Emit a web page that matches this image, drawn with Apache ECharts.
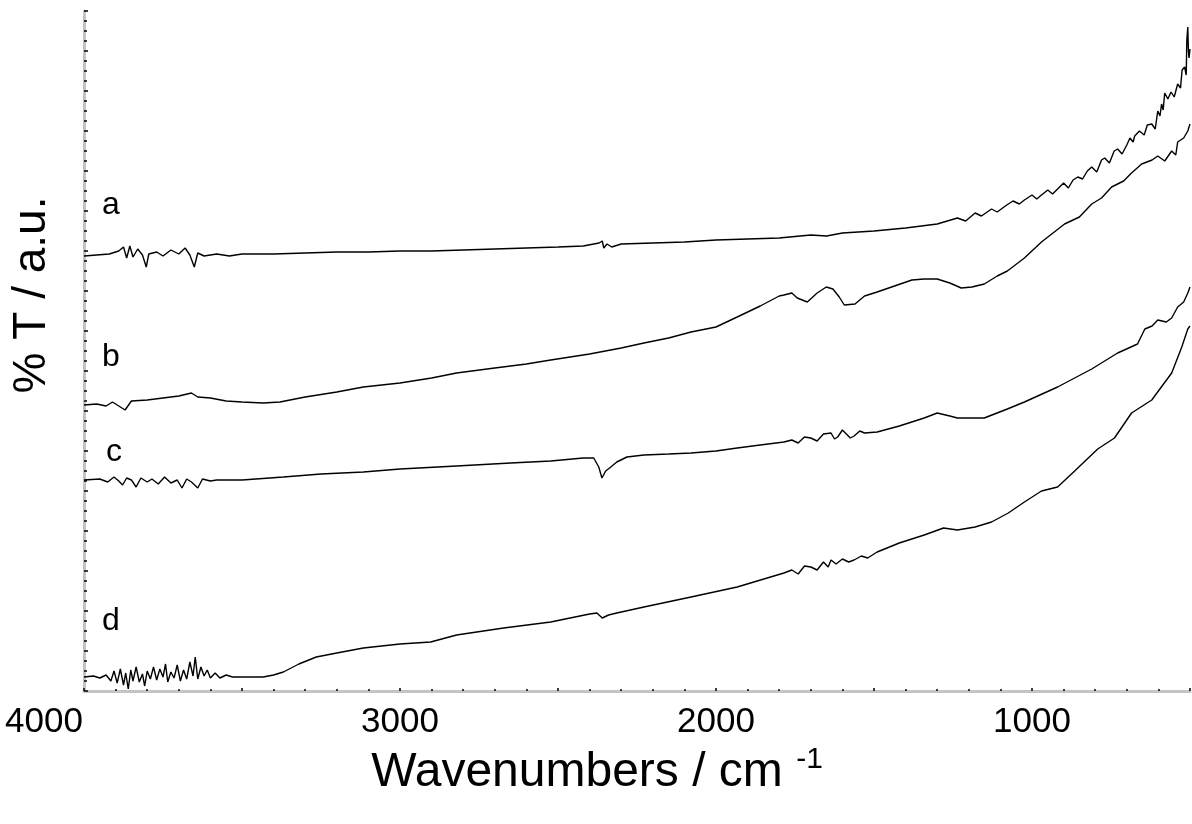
<!DOCTYPE html>
<html>
<head>
<meta charset="utf-8">
<script src="https://cdn.jsdelivr.net/npm/echarts@6/dist/echarts.min.js"></script>
<style>
html,body{margin:0;padding:0;background:#fff;}
#c{width:1192px;height:824px;}
</style>
</head>
<body>
<div id="c"></div>
<script>
// x: wavenumber (cm-1), y: %T in arbitrary units
const xTicks = [4000, 3000, 2000, 1000];
const labelsABCD = ['a', 'b', 'c', 'd'];
const xTitle = 'Wavenumbers / cm ';
const xTitleSup = '-1';
const yTitle = '% T / a.u.';

const seriesA = [
[4000,435],[3960,436],[3920,437],[3890,440],[3875,444],[3865,433],[3855,445],[3845,434],[3830,442],[3815,436],
[3803,424],[3795,437],[3770,439],[3750,435],[3725,441],[3700,437],[3680,443],[3665,436],[3651,424],[3640,438],
[3620,435],[3580,437],[3540,435],[3500,437],[3400,437],[3300,438],[3200,439],[3100,439],[3000,440],[2900,440],
[2800,441],[2700,442],[2600,443],[2500,444],[2420,445],[2370,448],[2360,450],[2355,443],[2345,447],[2330,444],
[2300,447],[2200,448],[2100,449],[2000,451],[1900,452],[1800,453],[1700,456],[1650,455],[1600,458],[1500,460],
[1400,463],[1300,467],[1236,473],[1210,470],[1180,478],[1160,475],[1128,482],[1110,479],[1080,486],[1060,490],
[1040,487],[1024,491],[1000,496],[985,492],[970,496],[950,501],[935,497],[919,502],[900,508],[885,503],
[870,511],[855,514],[840,512],[825,520],[811,524],[795,519],[780,531],[770,533],[755,528],[740,540],
[729,542],[715,537],[700,546],[690,553],[680,549],[675,555],[660,560],[645,556],[635,566],[621,567],
[610,562],[602,580],[595,575],[590,587],[585,581],[580,598],[570,592],[560,599],[550,594],[539,607],
[530,603],[525,621],[517,624],[512,616],[510,651],[507,664],[505,640],[503,633],[500,642]
];

const seriesB = [
[4000,286],[3960,287],[3930,285],[3910,289],[3870,281],[3850,290],[3800,291],[3750,293],[3700,295],[3660,298],
[3640,294],[3600,293],[3550,290],[3500,289],[3433,288],[3380,289],[3300,294],[3200,299],[3116,304],[3000,308],
[2900,313],[2821,318],[2700,323],[2600,327],[2523,331],[2400,337],[2300,343],[2228,348],[2150,353],[2079,359],
[2000,364],[1933,374],[1860,385],[1800,395],[1785,396],[1760,398],[1743,393],[1711,389],[1680,398],[1651,404],
[1630,402],[1610,394],[1594,386],[1560,387],[1530,395],[1490,399],[1426,406],[1380,411],[1341,412],[1300,412],
[1260,408],[1224,403],[1190,404],[1151,407],[1110,415],[1078,420],[1024,433],[970,449],[897,467],[850,474],
[811,487],[780,493],[748,504],[710,510],[685,518],[653,527],[620,531],[602,535],[580,530],[558,540],
[545,536],[539,549],[520,553],[507,560],[500,567]
];

const seriesC = [
[4000,211],[3950,212],[3925,209],[3905,214],[3890,210],[3878,206],[3865,213],[3850,211],[3835,204],[3820,213],
[3800,209],[3785,212],[3765,207],[3745,214],[3725,208],[3705,211],[3690,203],[3675,212],[3660,209],[3640,203],
[3625,212],[3600,210],[3580,211],[3500,211],[3369,214],[3250,217],[3116,219],[3000,222],[2821,225],[2650,228],
[2523,230],[2420,233],[2387,233],[2371,224],[2361,213],[2349,220],[2333,224],[2314,229],[2282,234],[2228,236],
[2150,237],[2079,238],[2000,240],[1933,243],[1860,246],[1785,249],[1760,251],[1740,248],[1720,254],[1700,253],
[1680,250],[1660,257],[1636,258],[1625,252],[1615,254],[1600,261],[1594,259],[1575,253],[1563,255],[1545,260],
[1530,258],[1490,259],[1420,265],[1341,273],[1300,278],[1260,275],[1236,273],[1151,273],[1078,282],[1024,289],
[919,304],[811,322],[729,338],[666,347],[643,362],[620,365],[602,371],[575,369],[558,373],[539,384],
[520,389],[507,398],[500,404]
];

const seriesD = [
[4000,14],[3970,15],[3950,13],[3930,16],[3915,10],[3905,20],[3895,8],[3885,22],[3875,6],[3868,18],
[3860,2],[3852,21],[3845,10],[3835,24],[3825,9],[3815,17],[3808,5],[3800,20],[3790,12],[3780,24],
[3770,11],[3760,22],[3750,14],[3742,27],[3735,9],[3725,19],[3715,13],[3705,26],[3695,10],[3685,21],
[3675,12],[3665,29],[3655,15],[3648,34],[3640,12],[3630,24],[3620,15],[3610,21],[3600,13],[3585,18],
[3570,13],[3550,16],[3530,14],[3500,14],[3433,14],[3400,16],[3369,19],[3320,27],[3265,34],[3200,38],
[3116,43],[3000,47],[2903,49],[2821,56],[2672,63],[2523,69],[2400,77],[2377,78],[2360,73],[2340,76],
[2314,78],[2228,84],[2079,94],[1933,104],[1785,118],[1760,121],[1740,117],[1720,125],[1700,124],[1680,121],
[1660,129],[1645,124],[1636,131],[1620,127],[1600,132],[1580,129],[1563,131],[1540,135],[1520,133],[1490,139],
[1420,148],[1341,156],[1280,163],[1236,161],[1180,164],[1128,169],[1075,178],[1024,189],[970,200],[919,204],
[865,220],[792,242],[739,253],[685,278],[621,291],[558,318],[526,344],[507,362],[500,365]
];

const chart = echarts.init(document.getElementById('c'), null, {renderer: 'canvas'});
const font = 'Arial, "Liberation Sans", sans-serif';
const mk = (name, data) => ({
  name, type: 'line', data, showSymbol: false, animation: false,
  lineStyle: {color: '#000', width: 1.4}, z: 3
});

chart.setOption({
  backgroundColor: '#fff',
  animation: false,
  grid: {left: 84, right: 2, top: 11, bottom: 133, containLabel: false, outerBoundsMode: 'none'},
  xAxis: {
    type: 'value', inverse: true, min: 500, max: 4000, interval: 500,
    axisLine: {onZero: false, lineStyle: {color: '#c4c4c4', width: 3}},
    axisTick: {show: true, inside: true, length: 3, lineStyle: {color: '#000', width: 1.5}},
    minorTick: {show: true, splitNumber: 5, length: 2, lineStyle: {color: '#000', width: 1.5}},
    splitLine: {show: false},
    axisLabel: {
      fontFamily: font, fontSize: 35, color: '#000', margin: 14,
      formatter: v => xTicks.indexOf(v) < 0 ? '' : (v === 4000 ? '{f|' + v + '}' : String(v)),
      rich: {f: {fontFamily: font, fontSize: 35, color: '#000', padding: [0, 80, 0, 0]}}
    }
  },
  yAxis: {
    type: 'value', min: 0, max: 680, interval: 40,
    axisLine: {show: true, lineStyle: {color: '#c4c4c4', width: 3}},
    axisTick: {show: true, inside: true, length: 4, lineStyle: {color: '#000', width: 1.5}},
    minorTick: {show: true, splitNumber: 4, length: 3, lineStyle: {color: '#000', width: 1.5}},
    splitLine: {show: false},
    axisLabel: {show: false}
  },
  series: [mk('a', seriesA), mk('b', seriesB), mk('c', seriesC), mk('d', seriesD)],
  graphic: [
    {type: 'text', left: 102, top: 189, style: {text: labelsABCD[0], font: '32px ' + font, fill: '#000'}},
    {type: 'text', left: 102, top: 341, style: {text: labelsABCD[1], font: '32px ' + font, fill: '#000'}},
    {type: 'text', left: 106, top: 436, style: {text: labelsABCD[2], font: '32px ' + font, fill: '#000'}},
    {type: 'text', left: 102, top: 605, style: {text: labelsABCD[3], font: '32px ' + font, fill: '#000'}},
    {type: 'text', x: 597, y: 773, style: {
      text: '{t|' + xTitle + '}{s|' + xTitleSup + '}', align: 'center', verticalAlign: 'middle',
      rich: {
        t: {font: '48px ' + font, fill: '#000'},
        s: {font: '30px ' + font, fill: '#000', verticalAlign: 'top', padding: [0, 0, 26, 0]}
      }
    }},
    {type: 'text', x: 32, y: 295, rotation: Math.PI / 2, style: {
      text: yTitle, font: '46px ' + font, fill: '#000', align: 'center', verticalAlign: 'middle'
    }}
  ]
});
</script>
</body>
</html>
